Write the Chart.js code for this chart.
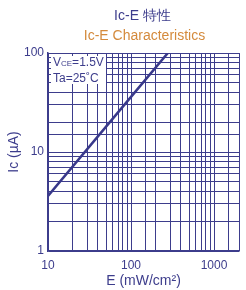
<!DOCTYPE html>
<html>
<head>
<meta charset="utf-8">
<script src="https://cdn.jsdelivr.net/npm/chart.js@4.4.1/dist/chart.umd.min.js"></script>
<style>
  html, body { margin: 0; padding: 0; background: #fff; }
  #wrap { width: 246px; height: 290px; }
</style>
</head>
<body>
<div id="wrap"><canvas id="myChart" width="246" height="290"></canvas></div>
<script>
// Ic-E curve
const irradiance = [10, 100, 278];      // E (mW/cm2)
const collectorCurrent = [3.6, 36, 100]; // Ic (uA)
const xRange = [10, 2000];
const yRange = [1, 100];
const titleJp = "Ic-E 特性";
const titleEn = "Ic-E Characteristics";
const conditions = ["VCE=1.5V", "Ta=25˚C"];

const navy = "#3d3d8c";
const orange = "#d48a3c";
const font = "'Liberation Sans', Arial, sans-serif";

const isDecade = (v) => Math.abs(Math.log10(v) - Math.round(Math.log10(v))) < 1e-9;

const decor = {
  id: "decor",
  beforeDatasetsDraw(chart) {
    const { ctx, chartArea } = chart;
    ctx.save();
    // white box for the test conditions
    ctx.fillStyle = "#fff";
    ctx.fillRect(chartArea.left + 3, chartArea.top + 3, 55, 28);
    ctx.fillStyle = navy;
    ctx.font = "12px " + font;
    ctx.textBaseline = "alphabetic";
    let x = chartArea.left + 5;
    ctx.fillText("V", x, chartArea.top + 13);
    x += ctx.measureText("V").width;
    ctx.font = "8px " + font;
    ctx.fillText("CE", x, chartArea.top + 13);
    x += ctx.measureText("CE").width;
    ctx.font = "12px " + font;
    ctx.fillText("=1.5V", x, chartArea.top + 13);
    ctx.fillText(conditions[1], chartArea.left + 5, chartArea.top + 29);
    ctx.restore();
  },
  afterDraw(chart) {
    const { ctx, chartArea } = chart;
    const cx = (chartArea.left + chartArea.right) / 2;
    ctx.save();
    ctx.textAlign = "center";
    ctx.textBaseline = "alphabetic";
    ctx.font = "14px " + font;
    ctx.fillStyle = navy;
    ctx.fillText(titleJp, cx - 1, 20);
    ctx.fillStyle = orange;
    ctx.fillText(titleEn, cx + 1, 40);
    ctx.restore();
  },
};

const ctx = document.getElementById("myChart").getContext("2d");
new Chart(ctx, {
  type: "line",
  data: {
    datasets: [
      {
        data: irradiance.map((e, i) => ({ x: e, y: collectorCurrent[i] })),
        borderColor: "#38388a",
        borderWidth: 2.5,
        pointRadius: 0,
        fill: false,
        tension: 0,
      },
    ],
  },
  options: {
    responsive: false,
    animation: false,
    layout: { padding: { top: 53, left: 0, right: 0, bottom: 0 } },
    plugins: { legend: { display: false }, tooltip: { enabled: false } },
    scales: {
      x: {
        type: "logarithmic",
        min: xRange[0],
        max: xRange[1],
        afterFit: (s) => { s.height = 39; },
        grid: { color: navy, lineWidth: 1, drawTicks: false },
        border: { color: navy, width: 1.5 },
        ticks: {
          autoSkip: false,
          maxRotation: 0,
          padding: 7,
          color: navy,
          font: { family: font, size: 12 },
          callback: (v) => (isDecade(v) ? String(v) : ""),
        },
        title: {
          display: true,
          text: "E (mW/cm²)",
          color: navy,
          font: { family: font, size: 14 },
          padding: { top: 5, bottom: 0 },
        },
      },
      y: {
        type: "logarithmic",
        min: yRange[0],
        max: yRange[1],
        afterFit: (s) => { s.width = 48; },
        grid: { color: navy, lineWidth: 1, drawTicks: false },
        border: { color: navy, width: 1.5 },
        ticks: {
          autoSkip: false,
          padding: 4,
          color: navy,
          font: { family: font, size: 12 },
          callback: (v) => (isDecade(v) ? String(v) : ""),
        },
        title: {
          display: true,
          text: "Ic (µA)",
          color: navy,
          font: { family: font, size: 14 },
          padding: { top: 6, bottom: 2 },
        },
      },
    },
  },
  plugins: [decor],
});
</script>
</body>
</html>
